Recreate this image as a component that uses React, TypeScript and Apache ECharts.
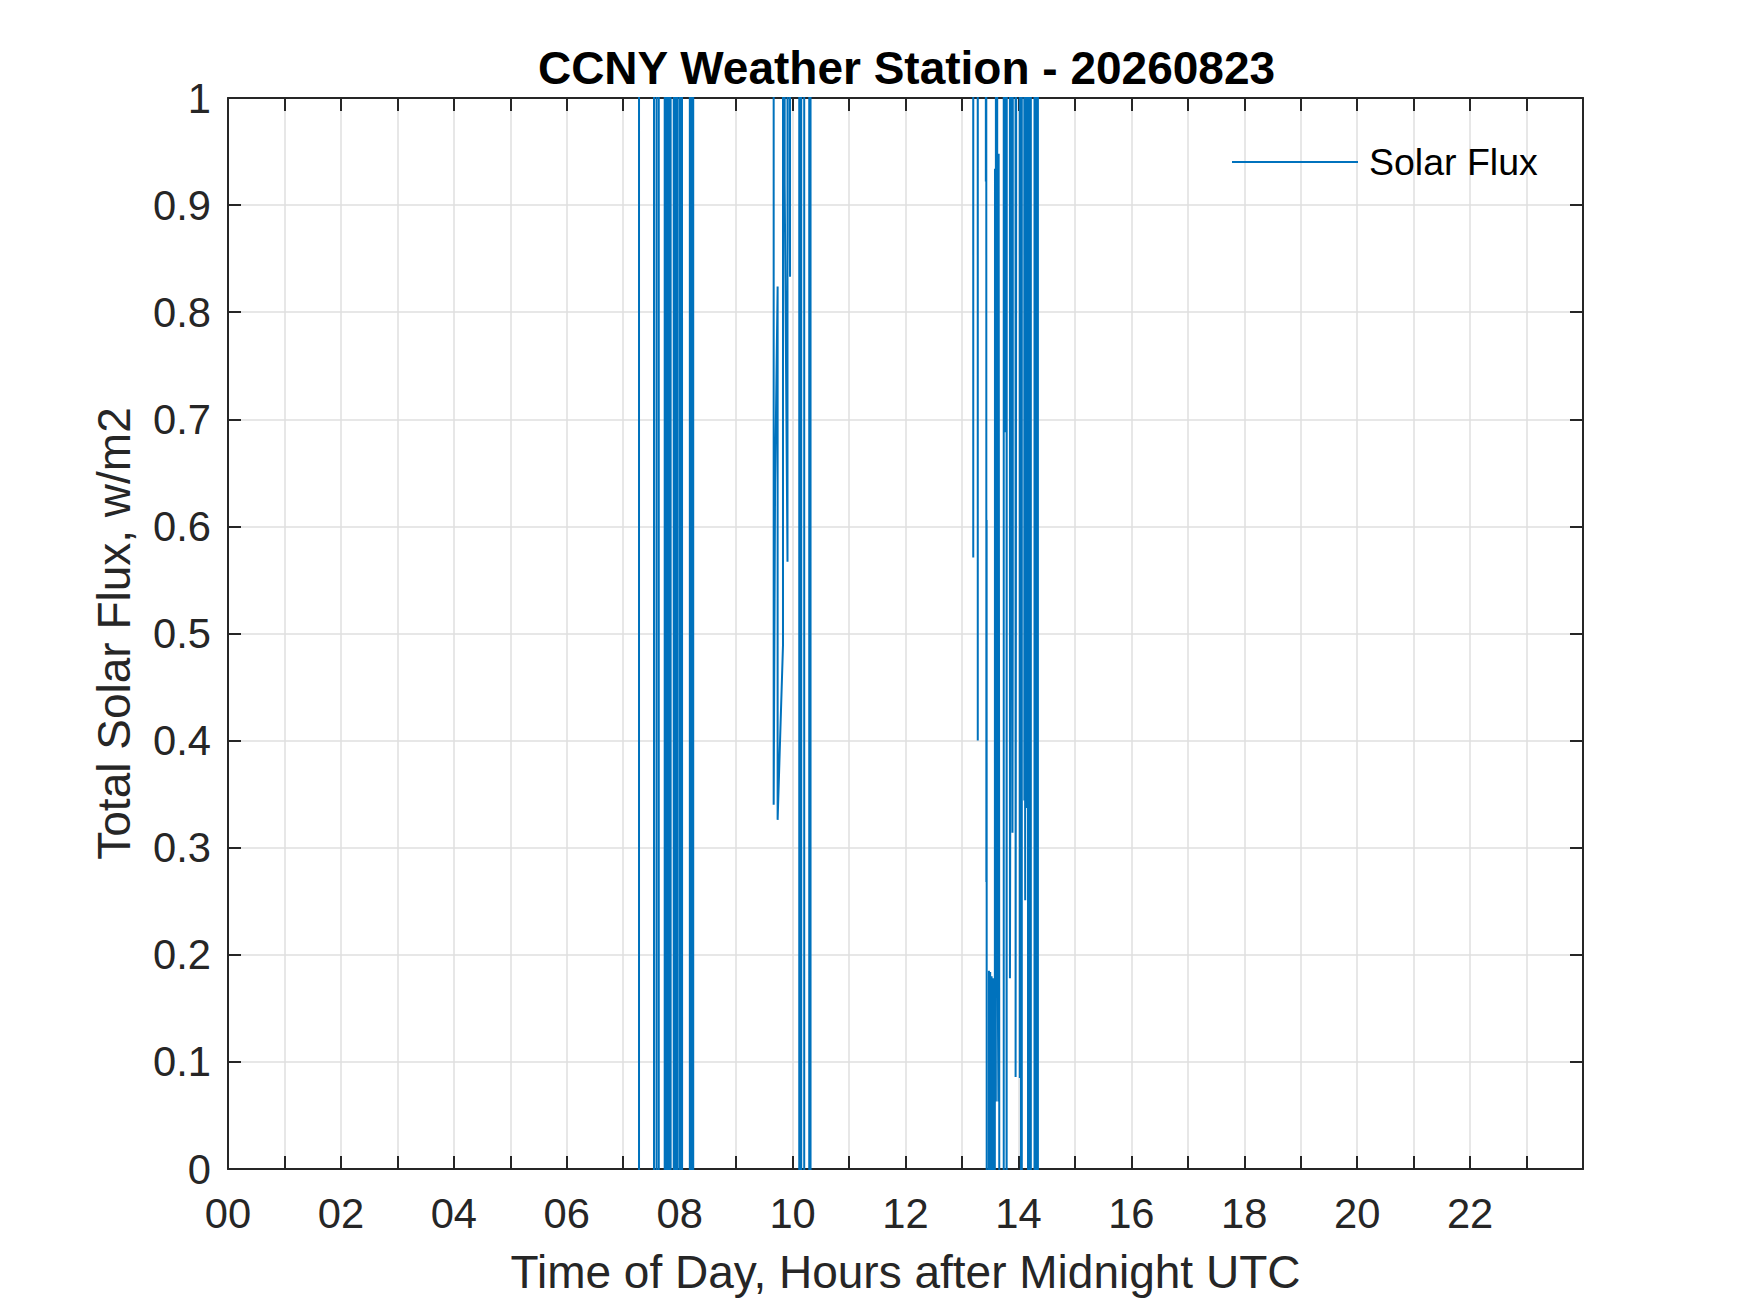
import React, { useEffect, useRef } from "react";
import * as echarts from "echarts";

// ---- texts ----
const titleText = "CCNY Weather Station - 20260823";
const xAxisName = "Time of Day, Hours after Midnight UTC";
const yAxisName = "Total Solar Flux, w/m2";
const seriesName = "Solar Flux";

// ---- tick labels ----
const xTickLabels = ["00", "02", "04", "06", "08", "10", "12", "14", "16", "18", "20", "22"];
const yTickLabels = ["0", "0.1", "0.2", "0.3", "0.4", "0.5", "0.6", "0.7", "0.8", "0.9", "1"];

// ---- data (hours after midnight UTC, flux) ; values outside 0..1 are off-scale ----
const nightHours = [0, 7.28];
const nightFlux = [-1, -1];

const burst1Hours = [
  7.28, 7.545, 7.545, 7.59, 7.59, 7.63, 7.63, 7.735, 7.735, 7.75, 7.75, 7.77, 7.77,
  7.805, 7.805, 7.84, 7.84, 7.895, 7.895, 7.91, 7.91, 7.925, 7.925, 7.95, 7.95, 7.958,
  7.965, 7.965, 8.005, 8.005, 8.02, 8.02, 8.035, 8.035, 8.045, 8.045, 8.18, 8.18, 8.195,
  8.195, 8.21, 8.21, 8.225, 8.225, 8.24, 8.24,
];
const burst1Flux = [
  5, 5, -1, -1, 5, 5, -1, -1, 5, 5, -1, -1, 5,
  5, -1, -1, 5, 5, -1, -1, 5, 5, -1, -1, 5, 0.97,
  5, -1, -1, 5, 5, -1, -1, 5, 5, -1, -1, 5, 5,
  -1, -1, 5, 5, -1, -1, 5,
];

const burst2Hours = [
  9.665, 9.665, 9.69, 9.705, 9.735, 9.735, 9.83, 9.83, 9.86, 9.86, 9.91, 9.91, 9.95, 9.95,
  9.955, 9.955, 10.118, 10.118, 10.135, 10.135, 10.153, 10.153, 10.206, 10.206, 10.295,
  10.295, 10.318, 10.318,
];
const burst2Flux = [
  5, 0.34, 0.64, 0.7, 0.824, 0.326, 0.489, 5, 5, 0.92, 0.567, 5, 5, 0.873,
  0.833, 5, 5, -1, -1, 5, 5, -1, -1, 5, 5,
  -1, -1, 5,
];

const burst3Hours = [
  13.195, 13.2, 13.205, 13.275, 13.28, 13.285, 13.42, 13.423, 13.426, 13.43, 13.432, 13.437,
  13.44, 13.47, 13.478, 13.49, 13.5, 13.515, 13.525, 13.54, 13.555, 13.565, 13.58, 13.585,
  13.595, 13.6, 13.605, 13.62, 13.625, 13.635, 13.645, 13.65, 13.66, 13.665, 13.74, 13.74,
  13.76, 13.765, 13.775, 13.79, 13.79, 13.8, 13.8, 13.845, 13.85, 13.87, 13.875, 13.89,
  13.895, 13.9, 13.905, 13.945, 13.95, 13.96, 13.965, 14.02, 14.025, 14.03, 14.045, 14.045,
  14.06, 14.06, 14.1, 14.105, 14.11, 14.12, 14.13, 14.14, 14.145, 14.15, 14.17, 14.17,
  14.19, 14.19, 14.205, 14.205, 14.22, 14.22, 14.285, 14.285, 14.3, 14.3, 14.315, 14.315,
  14.33, 14.33, 14.345, 14.345,
];
const burst3Flux = [
  5, 0.571, 5, 5, 0.4, 5, 5, 0.922, 5, 5, 0.268, 0.606,
  -1, -1, 0.185, 0.07, 0.184, -1, 0.18, 0.063, 0.178, -1, -1, 0.934,
  0.071, 0.063, 5, 5, 0.385, 0.169, 0.063, 0.948, 0.169, -1, -1, 5,
  5, 0.688, 5, 5, -1, -1, 5, 5, 0.178, 0.742, 5, 5,
  0.314, 0.533, 5, 5, 0.086, 0.913, 5, 5, 0.085, 5, 5, -1,
  -1, 5, 5, 0.344, 0.892, 0.251, 5, 5, 0.337, 5, 5, -1,
  -1, 5, 5, -1, -1, 5, 5, -1, -1, 5, 5, -1,
  -1, 5, 5, -1,
];

const eveningHours = [14.5, 23.98];
const eveningFlux = [-1, -1];

const FONT = '"Liberation Sans", Arial, Helvetica, sans-serif';
const AXIS_COLOR = "#262626";
const GRID_COLOR = "#dfdfdf";
const LINE_COLOR = "#0072BD";

function pairs(h: number[], v: number[]): [number, number][] {
  return h.map((x, i) => [x, v[i]]);
}

export default function App() {
  const ref = useRef<HTMLDivElement>(null);

  useEffect(() => {
    if (!ref.current) return;
    const chart = echarts.init(ref.current, undefined, { renderer: "svg" });

    const data = [
      ...pairs(nightHours, nightFlux),
      ...pairs(burst1Hours, burst1Flux),
      ...pairs(burst2Hours, burst2Flux),
      ...pairs(burst3Hours, burst3Flux),
      ...pairs(eveningHours, eveningFlux),
    ];

    const tickCommon = {
      show: true,
      inside: true,
      length: 13,
      lineStyle: { color: AXIS_COLOR, width: 2 },
    };
    const lineCommon = { show: true, onZero: false, lineStyle: { color: AXIS_COLOR, width: 2 } };

    chart.setOption({
      animation: false,
      backgroundColor: "#ffffff",
      textStyle: { fontFamily: FONT },
      title: {
        text: titleText,
        left: 906.5,
        top: 44.5,
        padding: 0,
        textAlign: "center",
        textStyle: { fontFamily: FONT, fontSize: 46, fontWeight: "bold", color: "#000000" },
      },
      legend: {
        data: [seriesName],
        left: 1232,
        top: 143,
        padding: 0,
        icon: "rect",
        itemWidth: 126,
        itemHeight: 2,
        textStyle: { fontFamily: FONT, fontSize: 37.5, color: "#000000", padding: [0, 0, 0, 6] },
      },
      grid: { left: 228, right: 167, top: 98, bottom: 144, containLabel: false },
      xAxis: [
        {
          type: "value",
          position: "bottom",
          min: 0,
          max: 24,
          interval: 1,
          name: xAxisName,
          nameLocation: "middle",
          nameGap: 80,
          nameTextStyle: { fontFamily: FONT, fontSize: 46, color: AXIS_COLOR },
          axisLine: lineCommon,
          axisTick: tickCommon,
          axisLabel: {
            show: true,
            margin: 23,
            fontFamily: FONT,
            fontSize: 41.7,
            color: AXIS_COLOR,
            formatter: (v: number) => {
              const r = Math.round(v);
              return r % 2 === 0 && r < 24 ? xTickLabels[r / 2] : "";
            },
          },
          splitLine: { show: true, lineStyle: { color: GRID_COLOR, width: 1.5 } },
        },
        {
          type: "value",
          position: "top",
          min: 0,
          max: 24,
          interval: 1,
          z: 3,
          axisLine: lineCommon,
          axisTick: tickCommon,
          axisLabel: { show: false },
          splitLine: { show: false },
        },
      ],
      yAxis: [
        {
          type: "value",
          position: "left",
          min: 0,
          max: 1,
          interval: 0.1,
          name: yAxisName,
          nameLocation: "middle",
          nameGap: 91,
          nameRotate: 90,
          nameTextStyle: { fontFamily: FONT, fontSize: 46, color: AXIS_COLOR },
          axisLine: lineCommon,
          axisTick: tickCommon,
          axisLabel: {
            show: true,
            margin: 17,
            fontFamily: FONT,
            fontSize: 41.7,
            color: AXIS_COLOR,
            formatter: (v: number) => yTickLabels[Math.round(v * 10)] ?? "",
          },
          splitLine: { show: true, lineStyle: { color: GRID_COLOR, width: 1.5 } },
        },
        {
          type: "value",
          position: "right",
          min: 0,
          max: 1,
          interval: 0.1,
          z: 3,
          axisLine: lineCommon,
          axisTick: tickCommon,
          axisLabel: { show: false },
          splitLine: { show: false },
        },
      ],
      series: [
        {
          type: "line",
          name: seriesName,
          xAxisIndex: 0,
          yAxisIndex: 0,
          data,
          symbol: "none",
          showSymbol: false,
          clip: true,
          lineStyle: { color: LINE_COLOR, width: 2 },
          itemStyle: { color: LINE_COLOR },
        },
      ],
    });

    return () => chart.dispose();
  }, []);

  return (
    <div
      ref={ref}
      style={{ position: "absolute", left: 0, top: 0, width: 1750, height: 1313 }}
    />
  );
}
